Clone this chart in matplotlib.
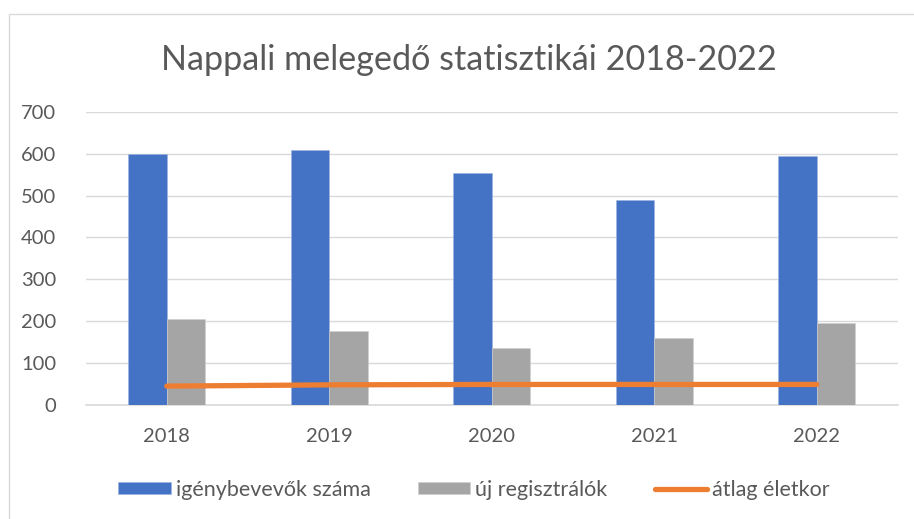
import matplotlib
matplotlib.use("Agg")
import matplotlib.pyplot as plt
import numpy as np
from matplotlib.patches import Rectangle

years = ["2018", "2019", "2020", "2021", "2022"]
igenybevevok = [600, 610, 555, 490, 595]
uj_regisztralok = [205, 175, 135, 160, 195]
atlag_eletkor = [44, 47, 48, 48, 48]
y_ticks = [0, 100, 200, 300, 400, 500, 600, 700]

plt.rcParams['font.family'] = ['Lato', 'DejaVu Sans']
txt = '#595959'

fig = plt.figure(figsize=(9.14, 5.19), dpi=100)
fig.patches.append(Rectangle((9/914, -0.05), 1.2, 1 - 14/519 + 0.05,
                             transform=fig.transFigure, fill=False,
                             edgecolor='#D9D9D9', linewidth=1.0))
ax = fig.add_axes([85.5/914, 1 - 404.5/519, (898 - 85.5)/914, (404.5 - 112)/519])

x = np.arange(len(years))
w = 0.237
b1 = ax.bar(x - w/2, igenybevevok, w, color='#4472C4', label='igénybevevők száma',
            edgecolor='#9DB4E0', linewidth=0.4, zorder=3)
b2 = ax.bar(x + w/2, uj_regisztralok, w, color='#A5A5A5', label='új regisztrálók',
            edgecolor='#D0D0D0', linewidth=0.4, zorder=3)
l1, = ax.plot(x, atlag_eletkor, color='#ED7D31', linewidth=3.8, solid_capstyle='round',
              label='átlag életkor', zorder=4)

ax.set_xlim(-0.5, len(years) - 0.5)
ax.set_ylim(0, 700)
ax.set_yticks(y_ticks)
ax.set_xticks(x)
ax.set_xticklabels(years)
ax.grid(axis='y', color='#D9D9D9', linewidth=1.0, zorder=0)
for s in ['top', 'right', 'left']:
    ax.spines[s].set_visible(False)
ax.spines['bottom'].set_color('#D9D9D9')
ax.spines['bottom'].set_linewidth(1.2)
ax.tick_params(axis='both', length=0, labelsize=14.5, colors=txt)
ax.tick_params(axis='y', pad=21)
ax.tick_params(axis='x', pad=17)

fig.text(469/914, 1 - 60/519, 'Nappali melegedő statisztikái 2018-2022',
         ha='center', va='center', fontsize=24.6, color=txt)

leg = fig.legend(handles=[b1, b2, l1], loc='center', bbox_to_anchor=(474/914, 1 - 490/519),
                 ncol=3, frameon=False, fontsize=15.5, labelcolor=txt,
                 handlelength=2.45, handleheight=0.5, handletextpad=0.23,
                 columnspacing=2.18)

fig.savefig('out.png', dpi=100)
